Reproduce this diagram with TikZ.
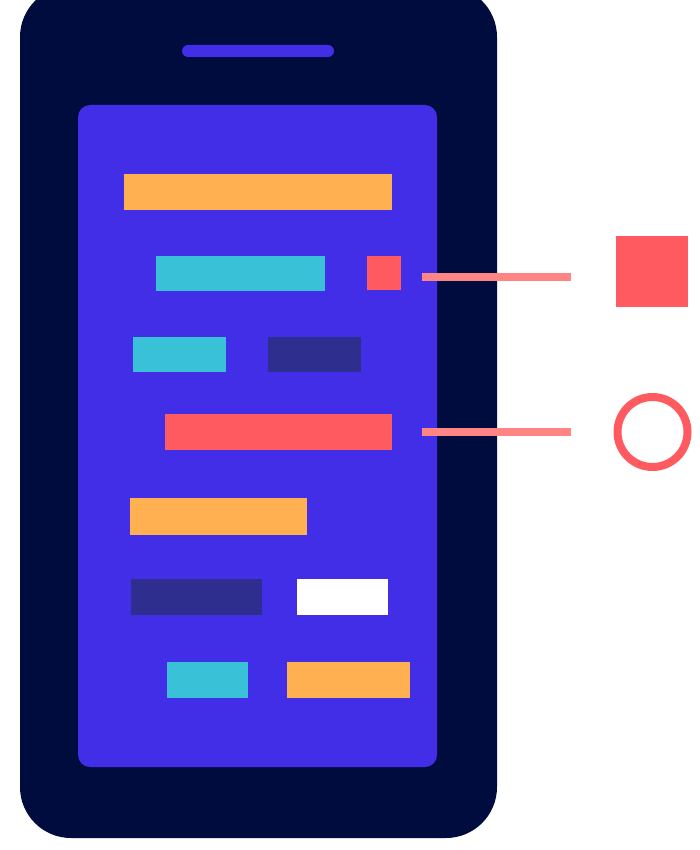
\documentclass[tikz,border=0pt]{standalone}
\definecolor{navy}{HTML}{000B3E}
\definecolor{screen}{HTML}{412EE6}
\definecolor{orangebar}{HTML}{FFB152}
\definecolor{cyanbar}{HTML}{38C1D7}
\definecolor{darkbar}{HTML}{2E2E8F}
\definecolor{redbar}{HTML}{FF5A5F}
\definecolor{salmon}{HTML}{FF8585}
\tikzset{
  bar/.style={fill=#1, draw=none},
  link/.style={draw=salmon, line width=8pt, line cap=butt}
}
\begin{document}
\begin{tikzpicture}[x=1pt,y=-1pt]
\useasboundingbox (0,0) rectangle (700,850);
\clip (0,0) rectangle (700,850);
% phone body
\fill[navy, rounded corners=51pt] (20,-14) rectangle (497,838);
% speaker
\fill[screen, rounded corners=6pt] (182,45) rectangle (334,57);
% screen
\fill[screen, rounded corners=12pt] (78,105) rectangle (437,767);
% bars
\fill[bar=orangebar] (124,174) rectangle (392,210);
\fill[bar=cyanbar] (156,256) rectangle (325,291);
\fill[bar=redbar] (367,256) rectangle (401,290);
\fill[bar=cyanbar] (133,337) rectangle (226,372);
\fill[bar=darkbar] (268,337) rectangle (361,372);
\fill[bar=redbar] (165,414) rectangle (392,450);
\fill[bar=orangebar] (130,498) rectangle (307,535);
\fill[bar=darkbar] (131,579) rectangle (262,615);
\fill[bar=white] (297,579) rectangle (388,615);
\fill[bar=cyanbar] (167,662) rectangle (248,698);
\fill[bar=orangebar] (287,662) rectangle (410,698);
% connectors
\coordinate (l1a) at (422,276.5);
\coordinate (l1b) at (571,276.5);
\coordinate (l2a) at (422,432);
\coordinate (l2b) at (571,432);
\draw[link] (l1a) -- (l1b);
\draw[link] (l2a) -- (l2b);
% symbols
\fill[redbar] (616,236) rectangle (688,307);
\draw[redbar, line width=8pt] (652.5,432) circle[radius=35pt];
\end{tikzpicture}
\end{document}
